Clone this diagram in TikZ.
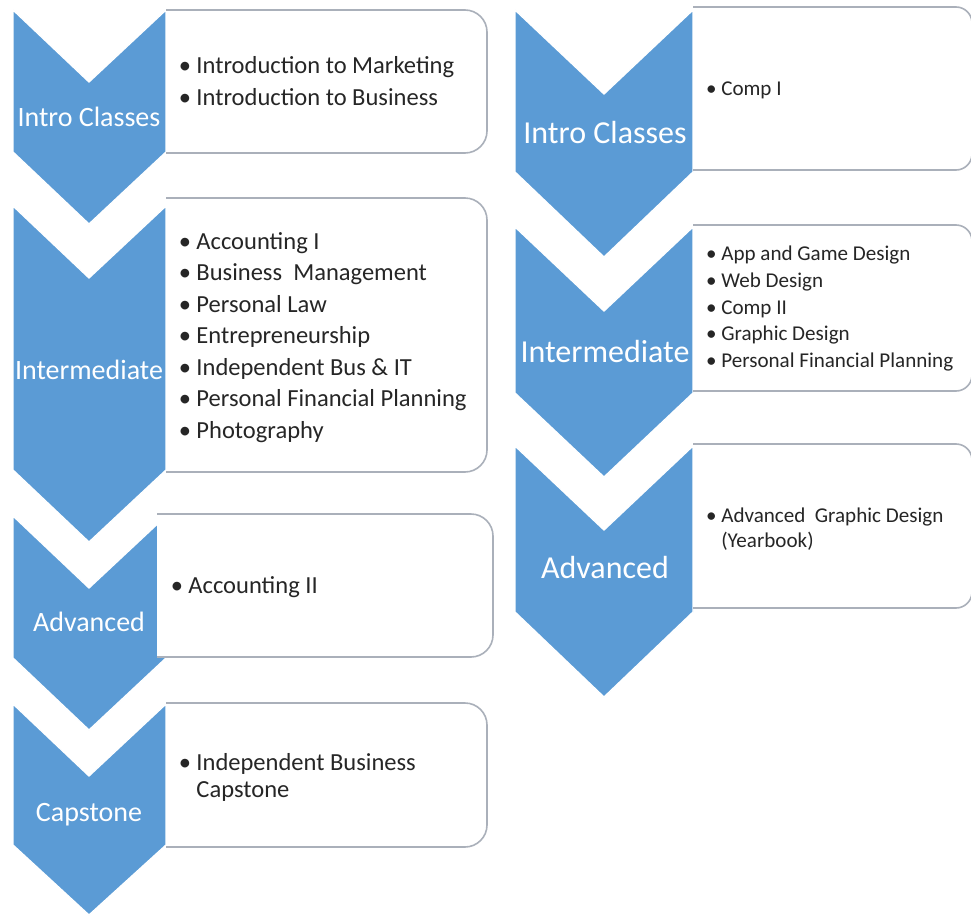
\documentclass[tikz,border=0pt]{standalone}
\usepackage{fontspec}
\setmainfont{Carlito}
\usepackage{tikz}

\definecolor{chevblue}{RGB}{91,155,213}
\definecolor{cardgray}{RGB}{170,176,186}
\definecolor{itemtext}{RGB}{38,38,38}

\tikzset{
  chev/.style={fill=chevblue, draw=white, line width=1},
  card/.style={fill=white, draw=cardgray, line width=1.2},
  stage/.style={text=white, inner sep=0.75pt, text height=0.65em, text depth=0pt},
  stageL/.style={stage, font=\fontsize{21}{25}\selectfont},
  stageR/.style={stage, font=\fontsize{24}{28}\selectfont},
  items/.style={text=itemtext, anchor=west, inner sep=0pt, align=left},
  itemsL/.style={items, font=\fontsize{18.4}{23.6}\selectfont},
  itemsR/.style={items, font=\fontsize{15.8}{20.2}\selectfont},
}
\newcommand{\bul}{\makebox[0.62em][l]{\makebox[0.3em][c]{•}}}
\newcommand{\hng}{\hspace*{0.62em}}

\begin{document}
\begin{tikzpicture}[x=0.75pt,y=0.75pt,yscale=-1,xscale=1]
\path[use as bounding box, fill=white] (0,0) rectangle (971,917);

%Shape: Chevron [left column]
\draw[chev] (13,10) -- (89,82) -- (166,10) -- (166,152) -- (89,224) -- (13,152) -- cycle ;
\draw[chev] (13,206) -- (89,278) -- (166,206) -- (166,470) -- (89,542) -- (13,470) -- cycle ;
\draw[chev] (13,516) -- (89,588) -- (166,516) -- (166,658) -- (89,730) -- (13,658) -- cycle ;
\draw[chev] (13,704) -- (89,776) -- (166,704) -- (166,845) -- (89,915) -- (13,845) -- cycle ;
%Shape: Chevron [right column]
\draw[chev] (515,10) -- (604,94) -- (693,10) -- (693,172) -- (604,257) -- (515,172) -- cycle ;
\draw[chev] (515,227) -- (604,311) -- (693,227) -- (693,393) -- (604,477) -- (515,393) -- cycle ;
\draw[chev] (515,446) -- (604,530) -- (693,446) -- (693,612) -- (604,697) -- (515,612) -- cycle ;

%Shape: Card [left column]
\draw[card] (166,10) -- (465,10) .. controls (477.1,10) and (487,19.9) .. (487,32) -- (487,131) .. controls (487,143.1) and (477.1,153) .. (465,153) -- (166,153) ;
\draw[card] (166,198) -- (465,198) .. controls (477.1,198) and (487,207.9) .. (487,220) -- (487,450) .. controls (487,462.1) and (477.1,472) .. (465,472) -- (166,472) ;
\draw[card] (157,514) -- (471,514) .. controls (483.1,514) and (493,523.9) .. (493,536) -- (493,635) .. controls (493,647.1) and (483.1,657) .. (471,657) -- (157,657) ;
\draw[card] (166,703) -- (465,703) .. controls (477.1,703) and (487,712.9) .. (487,725) -- (487,825) .. controls (487,837.1) and (477.1,847) .. (465,847) -- (166,847) ;
%Shape: Card [right column]
\draw[card] (693,7) -- (956,7) .. controls (964.8,7) and (972,14.2) .. (972,23) -- (972,154) .. controls (972,162.8) and (964.8,170) .. (956,170) -- (693,170) ;
\draw[card] (693,225) -- (956,225) .. controls (964.8,225) and (972,232.2) .. (972,241) -- (972,375) .. controls (972,383.8) and (964.8,391) .. (956,391) -- (693,391) ;
\draw[card] (693,444) -- (956,444) .. controls (964.8,444) and (972,451.2) .. (972,460) -- (972,592) .. controls (972,600.8) and (964.8,608) .. (956,608) -- (693,608) ;

% Text Node
\node[stageL] (introLbl) at (89,122) {Intro Classes};
\node[stageL] (interLbl) at (89,375) {Intermediate};
\node[stageL] (advLbl) at (89,627) {Advanced};
\node[stageL] (capLbl) at (89,817) {Capstone};
\node[stageR] (introRLbl) at (605,139) {Intro Classes};
\node[stageR] (interRLbl) at (605,358) {Intermediate};
\node[stageR] (advRLbl) at (605,574) {Advanced};

% Text Node
\node[itemsL] (introL) at (181,81) {\bul Introduction to Marketing\\ \bul Introduction to Business};
\node[itemsL] (interL) at (181,337.5) {\bul Accounting I\\ \bul Business~ Management\\ \bul Personal Law\\ \bul Entrepreneurship\\ \bul Independent Bus \& IT\\ \bul Personal Financial Planning\\ \bul Photography};
\node[itemsL] (advL) at (173,587) {\bul Accounting II};
\node[itemsL] (capL) at (181,777.5) {\bul Independent Business\\[-3.6pt] \hng Capstone};
\node[itemsR] (introR) at (708,90) {\bul Comp I};
\node[itemsR] (interR) at (708,308.5) {\bul App and Game Design\\ \bul Web Design\\ \bul Comp II\\ \bul Graphic Design\\ \bul Personal Financial Planning};
\node[itemsR] (advR) at (708,529.5) {\bul Advanced~ Graphic Design\\[-1.5pt] \hng (Yearbook)};

\end{tikzpicture}
\end{document}
